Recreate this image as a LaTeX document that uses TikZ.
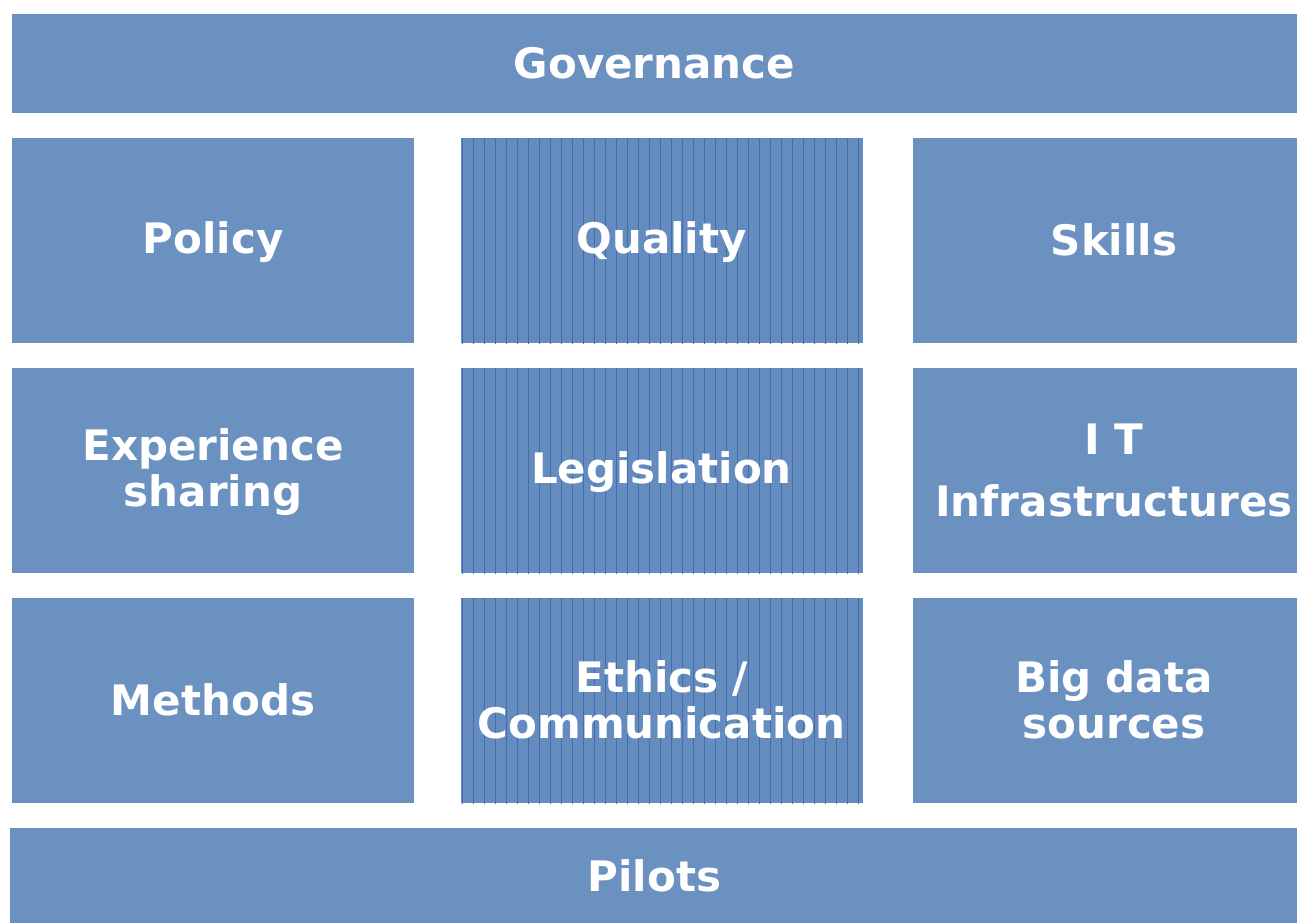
\documentclass[tikz,border=0pt]{standalone}
\usepackage{fontspec}
\setmainfont{DejaVu Sans}
\usetikzlibrary{patterns.meta}
\definecolor{boxblue}{RGB}{106,145,192}
\definecolor{midblue}{RGB}{100,140,190}
\definecolor{lineblue}{RGB}{66,108,172}
\newcommand{\boxstrut}{\rule[-2pt]{0pt}{19.3pt}}
\begin{document}
\begin{tikzpicture}[x=0.5pt, y=-0.5pt,
    box/.style = {fill=boxblue, inner sep=0pt, text=white, font=\fontsize{21}{23}\selectfont\bfseries,
                  minimum width=201pt, minimum height=102.5pt, text width=201pt, align=center,
                  execute at begin node=\boxstrut, execute at end node=\boxstrut},
    midbox/.style = {box, fill=midblue, postaction={pattern={Lines[angle=90,distance=5.5pt,line width=0.5pt]}, pattern color=lineblue}},
    bar/.style = {box, minimum width=642.5pt, text width=642.5pt}]
		\useasboundingbox (0,0) rectangle (1297,922);
		% Balkit
		\node[bar, minimum height=49.5pt] (gov) at (654.5,63.5) {Governance};
		\node[bar, minimum height=49pt, minimum width=645pt, text width=645pt] (pil) at (654.5,876.5) {Pilots};
		% Vasen sarake
		\node[box] (pol) at (213,240.5) {Policy};
		\node[box] (exp) at (213,470.5) {Experience\\sharing};
		\node[box] (met) at (213,700.5) {Methods};
		% Keskisarake
		\node[midbox] (qua) at (661.5,240.5) {Quality};
		\node[midbox] (leg) at (661.5,470.5) {Legislation};
		\node[midbox] (eth) at (661.5,700.5) {Ethics /\\Communication};
		% Oikea sarake
		\node[box] (ski) at (1114,240.5) {Skills};
		\node[box, font=\fontsize{21}{31}\selectfont\bfseries] (it) at (1114,470.5) {I T\\Infrastructures};
		\node[box] (big) at (1114,700.5) {Big data\\sources};
\end{tikzpicture}
\end{document}
